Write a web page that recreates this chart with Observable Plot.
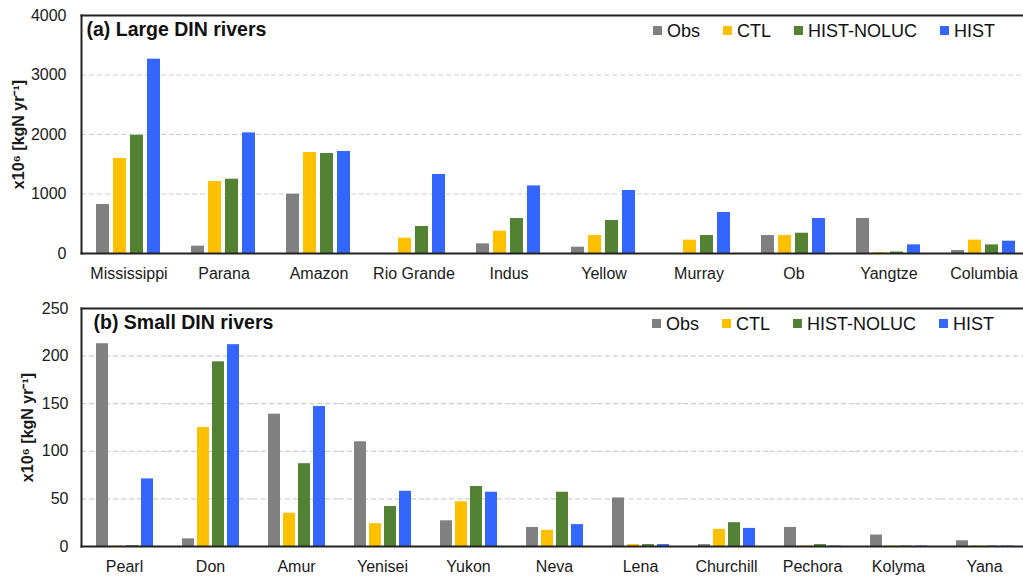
<!DOCTYPE html>
<html>
<head>
<meta charset="utf-8">
<script src="https://cdn.jsdelivr.net/npm/d3@7"></script>
<script src="https://cdn.jsdelivr.net/npm/@observablehq/plot@0.6"></script>
<style>
  html, body { margin: 0; padding: 0; background: #fff; overflow: hidden; }
  #figure { position: relative; width: 1023px; height: 576px; overflow: hidden; }
  .panel { position: relative; }
  .panel svg { display: block; max-width: none !important; }
  .panel g[aria-label="y-axis label"] text { font-weight: bold; font-size: 16px; }
  .legend { position: absolute; display: flex; align-items: center;
            font-family: "Liberation Sans", Arial, sans-serif; font-size: 18px; line-height: 18px; color: #111; }
  .legend .item { display: flex; align-items: center; margin-right: 23px; white-space: nowrap; }
  .legend .sw { display: inline-block; width: 9px; height: 9px; margin-right: 5px; }
</style>
</head>
<body>
<div id="figure"></div>
<script>
// Series shown in both panels
const seriesNames = ["Obs", "CTL", "HIST-NOLUC", "HIST"];
const seriesColors = ["#808080", "#FFC000", "#548235", "#3366FF"];
const unitLabel = "x10⁶ [kgN yr⁻¹]";

// (a) Large DIN rivers, 10^6 kgN per year
const largeRivers = ["Mississippi", "Parana", "Amazon", "Rio Grande", "Indus", "Yellow", "Murray", "Ob", "Yangtze", "Columbia"];
const largeObs    = [823, 123, 997, 0, 162, 106, 0, 302, 588, 50];
const largeCTL    = [1597, 1210, 1697, 257, 375, 302, 224, 302, 15, 224];
const largeNOLUC  = [1988, 1249, 1681, 454, 588, 555, 302, 341, 25, 145];
const largeHIST   = [3266, 2027, 1714, 1328, 1136, 1059, 689, 588, 145, 207];
const largeTicks  = [0, 1000, 2000, 3000, 4000];

// (b) Small DIN rivers, 10^6 kgN per year
const smallRivers = ["Pearl", "Don", "Amur", "Yenisei", "Yukon", "Neva", "Lena", "Churchill", "Pechora", "Kolyma", "Yana"];
const smallObs    = [213, 8, 139, 110, 27, 20, 51, 2, 20, 12, 6];
const smallCTL    = [0.5, 125, 35, 24, 47, 17, 2, 18, 0.5, 0.5, 0.5];
const smallNOLUC  = [0.8, 194, 87, 42, 63, 57, 2, 25, 2, 0.5, 0.5];
const smallHIST   = [71, 212, 147, 58, 57, 23, 2, 19, 0.5, 0.5, 0.5];
const smallTicks  = [0, 50, 100, 150, 200, 250];

const font = "'Liberation Sans', Arial, Helvetica, sans-serif";
const ink = "#1a1a1a";

function toRows(rivers, columns) {
  const rows = [];
  rivers.forEach((river, i) => {
    seriesNames.forEach((s, k) => rows.push({river, series: s, value: columns[k][i]}));
  });
  return rows;
}

function panel({title, rivers, columns, ticks, width, height, marginTop, marginBottom, marginLeft,
                tickPadding, labelOffset, titleDx, legendLeft, legendTop}) {
  const rows = toRows(rivers, columns);
  const frameLine = {stroke: "#222", strokeWidth: 2, facet: "super"};
  const chart = Plot.plot({
    width, height, marginTop, marginBottom, marginLeft, marginRight: 0,
    style: {fontFamily: font, fontSize: "15px", color: ink, background: "transparent",
            overflow: "visible", maxWidth: "none"},
    fx: {domain: rivers, padding: 0, axis: null, label: null},
    x: {domain: seriesNames, paddingInner: 0.21, paddingOuter: 0.84, axis: null},
    y: {domain: [ticks[0], ticks[ticks.length - 1]], axis: null},
    color: {domain: seriesNames, range: seriesColors},
    marks: [
      Plot.gridY(ticks.slice(1, -1), {stroke: "#cfcfcf", strokeOpacity: 1, strokeWidth: 1.2, strokeDasharray: "5,3"}),
      Plot.barY(rows, {fx: "river", x: "series", y: "value", fill: "series"}),
      Plot.axisY(ticks, {anchor: "left", tickSize: 0, tickPadding, fontSize: 16, tickFormat: d => String(d),
                         label: unitLabel, labelAnchor: "center", labelArrow: "none", labelOffset}),
      Plot.axisFx({anchor: "bottom", tickSize: 0, tickPadding: 14, fontSize: 16, label: null}),
      Plot.frame({anchor: "left", ...frameLine}),
      Plot.frame({anchor: "top", ...frameLine}),
      Plot.frame({anchor: "bottom", ...frameLine}),
      Plot.text([title], {frameAnchor: "top-left", facet: "super", lineAnchor: "top",
                          dx: titleDx, dy: 7, fontSize: 19.5, fontWeight: "bold", fill: "#111"})
    ]
  });

  const wrap = document.createElement("div");
  wrap.className = "panel";
  wrap.appendChild(chart);

  const legend = document.createElement("div");
  legend.className = "legend";
  legend.style.left = legendLeft + "px";
  legend.style.top = legendTop + "px";
  seriesNames.forEach((s, k) => {
    const item = document.createElement("span");
    item.className = "item";
    const sw = document.createElement("span");
    sw.className = "sw";
    sw.style.background = seriesColors[k];
    item.appendChild(sw);
    item.appendChild(document.createTextNode(s));
    legend.appendChild(item);
  });
  wrap.appendChild(legend);
  return wrap;
}

const fig = document.getElementById("figure");

fig.appendChild(panel({
  title: "(a) Large DIN rivers",
  rivers: largeRivers,
  columns: [largeObs, largeCTL, largeNOLUC, largeHIST],
  ticks: largeTicks,
  width: 1031, height: 290, marginTop: 15, marginBottom: 37, marginLeft: 81,
  tickPadding: 15, labelOffset: 69, titleDx: 5,
  legendLeft: 653, legendTop: 21.5
}));

fig.appendChild(panel({
  title: "(b) Small DIN rivers",
  rivers: smallRivers,
  columns: [smallObs, smallCTL, smallNOLUC, smallHIST],
  ticks: smallTicks,
  width: 1029, height: 286, marginTop: 18, marginBottom: 30, marginLeft: 79,
  tickPadding: 13, labelOffset: 60, titleDx: 12,
  legendLeft: 652, legendTop: 24.8
}));
</script>
</body>
</html>
